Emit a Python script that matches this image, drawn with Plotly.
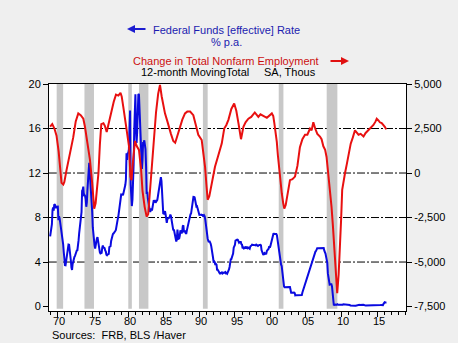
import plotly.graph_objects as go

# ---------------- data ----------------
# Federal Funds effective rate, monthly, Jan 1969 .. May 2016 (% p.a.)
fed_funds = [
    6.30, 6.61, 6.79, 7.41, 8.67, 8.90, 8.61, 9.19, 9.15, 9.00, 8.85, 8.97,   # 1969
    8.98, 8.98, 7.76, 8.10, 7.94, 7.60, 7.21, 6.61, 6.29, 6.20, 5.60, 4.90,   # 1970
    4.14, 3.72, 3.71, 4.16, 4.63, 4.91, 5.31, 5.57, 5.55, 5.20, 4.91, 4.14,   # 1971
    3.50, 3.29, 3.83, 4.17, 4.27, 4.46, 4.55, 4.80, 4.87, 5.04, 5.06, 5.33,   # 1972
    5.94, 6.58, 7.09, 7.12, 7.84, 8.49, 10.40, 10.50, 10.78, 10.01, 10.03, 9.95,  # 1973
    9.65, 8.97, 9.35, 10.51, 11.31, 11.93, 12.92, 12.01, 11.34, 10.06, 9.45, 8.53,  # 1974
    7.13, 6.24, 5.54, 5.49, 5.22, 5.55, 6.10, 6.14, 6.24, 5.82, 5.22, 5.20,   # 1975
    4.87, 4.77, 4.84, 4.82, 5.29, 5.48, 5.31, 5.29, 5.25, 5.02, 4.95, 4.65,   # 1976
    4.61, 4.68, 4.69, 4.73, 5.35, 5.39, 5.42, 5.90, 6.14, 6.47, 6.51, 6.56,   # 1977
    6.70, 6.78, 6.79, 6.89, 7.36, 7.60, 7.81, 8.04, 8.45, 8.96, 9.76, 10.03,  # 1978
    10.07, 10.06, 10.09, 10.01, 10.24, 10.29, 10.47, 10.94, 11.43, 13.77, 13.18, 13.78,  # 1979
    13.82, 14.13, 17.19, 17.61, 10.98, 9.47, 9.03, 9.61, 10.87, 12.81, 15.85, 18.90,  # 1980
    19.08, 15.93, 14.70, 15.72, 18.52, 19.10, 19.04, 17.82, 15.87, 15.08, 13.31, 12.37,  # 1981
    13.22, 14.78, 14.68, 14.94, 14.45, 14.15, 12.59, 10.12, 10.31, 9.71, 9.20, 8.95,  # 1982
    8.68, 8.51, 8.77, 8.80, 8.63, 8.98, 9.37, 9.56, 9.45, 9.48, 9.34, 9.47,   # 1983
    9.56, 9.59, 9.91, 10.29, 10.32, 11.06, 11.23, 11.64, 11.30, 9.99, 9.43, 8.38,  # 1984
    8.35, 8.50, 8.58, 8.27, 7.97, 7.53, 7.88, 7.90, 7.92, 7.99, 8.05, 8.27,   # 1985
    8.14, 7.86, 7.48, 6.99, 6.85, 6.92, 6.56, 6.17, 5.89, 5.85, 6.04, 6.91,   # 1986
    6.43, 6.10, 6.13, 6.37, 6.85, 6.73, 6.58, 6.73, 7.22, 7.29, 6.69, 6.77,   # 1987
    6.83, 6.58, 6.58, 6.87, 7.09, 7.51, 7.75, 8.01, 8.19, 8.30, 8.35, 8.76,   # 1988
    9.12, 9.36, 9.85, 9.84, 9.81, 9.53, 9.24, 8.99, 9.02, 8.84, 8.55, 8.45,   # 1989
    8.23, 8.24, 8.28, 8.26, 8.18, 8.29, 8.15, 8.13, 8.20, 8.11, 7.81, 7.31,   # 1990
    6.91, 6.25, 6.12, 5.91, 5.78, 5.90, 5.82, 5.66, 5.45, 5.21, 4.81, 4.43,   # 1991
    4.03, 4.06, 3.98, 3.73, 3.82, 3.76, 3.25, 3.30, 3.22, 3.10, 3.09, 2.92,   # 1992
    3.02, 3.03, 3.07, 2.96, 3.00, 3.04, 3.06, 3.03, 3.09, 2.99, 3.02, 2.96,   # 1993
    3.05, 3.25, 3.34, 3.56, 4.01, 4.25, 4.26, 4.47, 4.73, 4.76, 5.29, 5.45,   # 1994
    5.53, 5.92, 5.98, 6.05, 6.01, 6.00, 5.85, 5.74, 5.80, 5.76, 5.80, 5.60,   # 1995
    5.56, 5.22, 5.31, 5.22, 5.24, 5.27, 5.40, 5.22, 5.30, 5.24, 5.31, 5.29,   # 1996
    5.25, 5.19, 5.39, 5.51, 5.50, 5.56, 5.52, 5.54, 5.54, 5.50, 5.52, 5.50,   # 1997
    5.56, 5.51, 5.49, 5.45, 5.49, 5.56, 5.54, 5.55, 5.51, 5.07, 4.83, 4.68,   # 1998
    4.63, 4.76, 4.81, 4.74, 4.74, 4.76, 4.99, 5.07, 5.22, 5.20, 5.42, 5.30,   # 1999
    5.45, 5.73, 5.85, 6.02, 6.27, 6.53, 6.54, 6.50, 6.52, 6.51, 6.51, 6.40,   # 2000
    5.98, 5.49, 5.31, 4.80, 4.21, 3.97, 3.77, 3.65, 3.07, 2.49, 2.09, 1.82,   # 2001
    1.73, 1.74, 1.73, 1.75, 1.75, 1.75, 1.73, 1.74, 1.75, 1.75, 1.34, 1.24,   # 2002
    1.24, 1.26, 1.25, 1.26, 1.26, 1.22, 1.01, 1.03, 1.01, 1.01, 1.00, 0.98,   # 2003
    1.00, 1.01, 1.00, 1.00, 1.00, 1.03, 1.26, 1.43, 1.61, 1.76, 1.93, 2.16,   # 2004
    2.28, 2.50, 2.63, 2.79, 3.00, 3.04, 3.26, 3.50, 3.62, 3.78, 4.00, 4.16,   # 2005
    4.29, 4.49, 4.59, 4.79, 4.94, 4.99, 5.24, 5.25, 5.25, 5.25, 5.25, 5.24,   # 2006
    5.25, 5.26, 5.26, 5.25, 5.25, 5.25, 5.26, 5.02, 4.94, 4.76, 4.49, 4.24,   # 2007
    3.94, 2.98, 2.61, 2.28, 1.98, 2.00, 2.01, 2.00, 1.81, 0.97, 0.39, 0.16,   # 2008
    0.15, 0.22, 0.18, 0.15, 0.18, 0.21, 0.16, 0.16, 0.15, 0.12, 0.12, 0.12,   # 2009
    0.11, 0.13, 0.16, 0.20, 0.20, 0.18, 0.18, 0.19, 0.19, 0.19, 0.19, 0.18,   # 2010
    0.17, 0.16, 0.14, 0.10, 0.09, 0.09, 0.07, 0.10, 0.08, 0.07, 0.08, 0.07,   # 2011
    0.08, 0.10, 0.13, 0.14, 0.16, 0.16, 0.16, 0.13, 0.14, 0.16, 0.16, 0.16,   # 2012
    0.14, 0.15, 0.14, 0.15, 0.11, 0.09, 0.09, 0.08, 0.08, 0.09, 0.08, 0.09,   # 2013
    0.07, 0.07, 0.08, 0.09, 0.09, 0.10, 0.09, 0.09, 0.09, 0.09, 0.09, 0.12,   # 2014
    0.11, 0.11, 0.11, 0.12, 0.12, 0.13, 0.13, 0.14, 0.14, 0.12, 0.12, 0.24,   # 2015
    0.34, 0.38, 0.36, 0.37, 0.37,                                             # 2016
]
ff_start_year = 1969
ff_dates = [ff_start_year + i / 12.0 for i in range(len(fed_funds))]

# Change in total nonfarm employment, 12-month moving total (thousands)
emp_dates = [
    1969.0, 1969.3, 1969.6, 1969.9, 1970.2, 1970.4, 1970.6, 1970.85, 1971.0, 1971.3,
    1971.6, 1971.9, 1972.25, 1972.6, 1972.96, 1973.3, 1973.67, 1973.9, 1974.15, 1974.6,
    1974.9, 1975.2, 1975.4, 1975.6, 1975.8, 1976.0, 1976.2, 1976.5, 1976.7, 1976.96,
    1977.3, 1977.66, 1977.95, 1978.27, 1978.6, 1978.9, 1979.07, 1979.3, 1979.5, 1979.7,
    1979.9, 1980.1, 1980.3, 1980.45, 1980.6, 1980.8, 1980.94, 1981.2, 1981.5, 1981.8,
    1982.0, 1982.3, 1982.58, 1982.8, 1983.0, 1983.3, 1983.6, 1983.9, 1984.2, 1984.46,
    1984.7, 1984.9, 1985.16, 1985.5, 1985.8, 1986.0, 1986.33, 1986.6, 1986.8, 1987.2,
    1987.6, 1987.98, 1988.3, 1988.7, 1989.15, 1989.5, 1989.85, 1990.33, 1990.6, 1990.8,
    1991.0, 1991.17, 1991.4, 1991.7, 1992.0, 1992.2, 1992.6, 1993.15, 1993.5, 1993.8,
    1994.1, 1994.5, 1994.9, 1995.2, 1995.5, 1995.86, 1996.2, 1996.5, 1996.9, 1997.3,
    1997.8, 1998.3, 1998.6, 1999.0, 1999.5, 2000.2, 2000.4, 2000.55, 2000.75, 2000.9,
    2001.05, 2001.2, 2001.4, 2001.6, 2001.8, 2001.95, 2002.15, 2002.3, 2002.5, 2002.75,
    2003.1, 2003.46, 2003.8, 2004.15, 2004.5, 2004.87, 2005.2, 2005.57, 2005.8, 2006.04,
    2006.3, 2006.6, 2006.97, 2007.2, 2007.45, 2007.7, 2007.9, 2008.15, 2008.4, 2008.6,
    2008.8, 2009.0, 2009.2, 2009.4, 2009.6, 2009.8, 2009.95, 2010.1, 2010.3, 2010.5,
    2010.75, 2010.96, 2011.15, 2011.3, 2011.6, 2011.9, 2012.1, 2012.4, 2012.7, 2013.1,
    2013.4, 2013.8, 2014.1, 2014.5, 2014.8, 2014.96, 2015.2, 2015.4, 2015.66, 2015.9,
    2016.1, 2016.3,
]
emp_change = [
    2600, 2750, 2500, 2100, 1200, 300, -550, -650, -500, 150,
    700, 1300, 2000, 2900, 3350, 3250, 3050, 2600, 1850, 750,
    -500, -2000, -1700, -1000, 0, 1600, 2750, 2800, 2650, 2300,
    2900, 3500, 4000, 4400, 4350, 4500, 4300, 3700, 3150, 2600,
    2050, 1500, -200, -400, 400, 1200, 1800, 1500, 1300, 200,
    -1000, -1900, -2450, -2300, -1200, 200, 1800, 3400, 4450, 4950,
    4300, 3900, 3350, 2900, 2400, 2200, 1800, 1700, 1950, 2500,
    3000, 3350, 3450, 3450, 3250, 2700, 2150, 1850, 1100, 350,
    -700, -1500, -1300, -600, 0, 350, 900, 1650, 2500, 2700,
    3000, 3600, 3900, 3500, 2800, 1900, 2600, 2850, 3050, 3150,
    3400, 3150, 3300, 3200, 3100, 3350, 3200, 2800, 2300, 1750,
    1000, 350, -400, -1150, -1700, -2000, -1800, -1500, -900, -400,
    -350, -200, 400, 1450, 1900, 2150, 2150, 2500, 2400, 2850,
    2500, 2200, 2050, 1900, 1500, 1300, 900, 0, -1000, -1900,
    -3000, -4150, -5600, -6750, -5700, -4200, -2600, -950, -400, 0,
    500, 900, 1300, 1650, 2000, 2400, 2300, 2150, 2200, 2050,
    2250, 2400, 2500, 2700, 2900, 3050, 2950, 2850, 2800, 2700,
    2600, 2450,
]

# NBER recessions (start, end) in fractional years
rec_start = [1969.92, 1973.83, 1980.0, 1981.5, 1990.5, 2001.17, 2007.92]
rec_end = [1970.83, 1975.17, 1980.5, 1982.83, 1991.17, 2001.83, 2009.42]

x_tickvals = [1970, 1975, 1980, 1985, 1990, 1995, 2000, 2005, 2010, 2015]
x_ticktext = ["70", "75", "80", "85", "90", "95", "00", "05", "10", "15"]
left_ticks = [0, 4, 8, 12, 16, 20]
right_ticks = [-7500, -5000, -2500, 0, 2500, 5000]
right_ticktext = ["-7,500", "-5,000", "-2,500", "0", "2,500", "5,000"]
grid_levels = [4, 8, 12, 16]

# ---------------- layout geometry ----------------
W, H = 458, 343
ML, MR, MT, MB = 49, 52, 84, 32
PW, PH = W - ML - MR, H - MT - MB


def px(xp):
    return (xp - ML) / PW


def py(yp):
    return (H - MB - yp) / PH


FONT = "Liberation Sans, Arial, sans-serif"
BLUE = "#0a0ae0"
RED = "#e81010"

fig = go.Figure()
fig.add_trace(go.Scatter(x=ff_dates, y=fed_funds, mode="lines",
                         line=dict(color=BLUE, width=2), yaxis="y", showlegend=False))
fig.add_trace(go.Scatter(x=emp_dates, y=emp_change, mode="lines",
                         line=dict(color=RED, width=2), yaxis="y2", showlegend=False))

shapes = []
for s, e in zip(rec_start, rec_end):
    shapes.append(dict(type="rect", xref="x", yref="y", x0=s, x1=e, y0=-0.2, y1=20,
                       fillcolor="#c8c8c8", line=dict(width=0), layer="below"))
for g in grid_levels:
    shapes.append(dict(type="line", xref="paper", yref="y", x0=0, x1=1, y0=g, y1=g,
                       line=dict(color="black", width=1, dash="8px,2px,2px,2px"), layer="below"))

annotations = [
    dict(text="Federal Funds [effective] Rate", x=px(226), y=py(29.5), xanchor="center",
         font=dict(color="#1c1cb0", size=11, family=FONT)),
    dict(text="% p.a.", x=px(226), y=py(41.5), xanchor="center",
         font=dict(color="#1c1cb0", size=11, family=FONT)),
    dict(text="Change in Total Nonfarm Employment", x=px(226), y=py(61), xanchor="center",
         font=dict(color="#cc1010", size=11, family=FONT)),
    dict(text="12-month MovingTotal", x=px(140), y=py(72), xanchor="left",
         font=dict(color="black", size=11, family=FONT)),
    dict(text="SA, Thous", x=px(263), y=py(72), xanchor="left",
         font=dict(color="black", size=11, family=FONT)),
    dict(text="Sources:  FRB, BLS /Haver", x=px(51), y=py(334.5), xanchor="left",
         font=dict(color="black", size=11, family=FONT)),
    # arrows
    dict(text="", x=px(127), y=py(29), ax=19, ay=0, showarrow=True, arrowhead=2,
         arrowsize=0.8, arrowwidth=2, arrowcolor="#1c1cd0"),
    dict(text="", x=px(349), y=py(61), ax=-19, ay=0, showarrow=True, arrowhead=2,
         arrowsize=0.8, arrowwidth=2, arrowcolor="#e01010"),
]
# year labels under the x axis (placed as text so they sit tight above the source line)
for tv, tt in zip(x_tickvals, x_ticktext):
    annotations.append(dict(text=tt, x=tv + 0.25, xref="x", y=py(320.5), xanchor="center",
                            font=dict(color="black", size=11, family=FONT)))
for a in annotations:
    a.setdefault("xref", "paper")
    a.setdefault("yref", "paper")
    a.setdefault("yanchor", "middle")
    a.setdefault("showarrow", False)
    a.setdefault("borderpad", 0)

fig.update_layout(
    width=W, height=H,
    margin=dict(l=ML, r=MR, t=MT, b=MB, pad=0),
    paper_bgcolor="#efefef",
    plot_bgcolor="white",
    font=dict(family=FONT, size=11, color="black"),
    shapes=shapes,
    annotations=annotations,
    xaxis=dict(range=[1968.84, 2019.08], showgrid=False, zeroline=False,
               showline=True, linecolor="black", linewidth=1, mirror=True,
               ticks="outside", ticklen=5, tickcolor="black", tickwidth=1,
               tickvals=x_tickvals, showticklabels=False,
               minor=dict(ticks="outside", ticklen=3, dtick=1, tick0=1970,
                          tickcolor="black", showgrid=False)),
    yaxis=dict(range=[-0.4, 20], showgrid=False, zeroline=False,
               showline=True, linecolor="black", linewidth=1,
               ticks="outside", ticklen=5, tickcolor="black",
               tickvals=left_ticks, ticktext=[str(v) for v in left_ticks],
               tickfont=dict(size=11, color="black")),
    yaxis2=dict(range=[-7750, 5000], overlaying="y", side="right", showgrid=False,
                zeroline=False, showline=True, linecolor="black", linewidth=1,
                ticks="outside", ticklen=5, tickcolor="black",
                tickvals=right_ticks, ticktext=right_ticktext,
                tickfont=dict(size=11, color="black")),
)

fig.write_html("out.html")
